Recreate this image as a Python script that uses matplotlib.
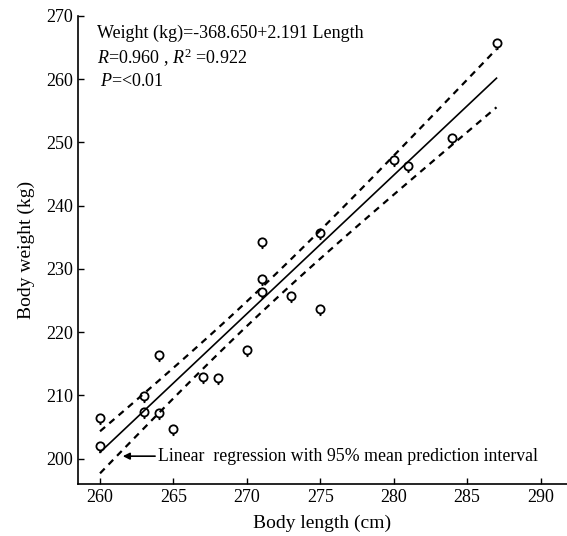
import numpy as np
import matplotlib
matplotlib.use("Agg")
import matplotlib.pyplot as plt
from matplotlib.path import Path

plt.rcParams['font.family'] = ['Liberation Serif', 'DejaVu Serif']
plt.rcParams['mathtext.fontset'] = 'custom'
plt.rcParams['mathtext.it'] = 'Liberation Serif:italic'
plt.rcParams['mathtext.rm'] = 'Liberation Serif'

length_cm = [260, 260, 263, 263, 264, 264, 265, 267, 268, 270,
             271, 271, 271, 273, 275, 275, 280, 281, 284, 287]
weight_kg = [206.2, 201.8, 207.2, 209.8, 216.3, 207.0, 204.6, 212.7, 212.6, 217.1,
             234.1, 228.3, 226.2, 225.6, 235.6, 223.5, 247.1, 246.1, 250.6, 265.6]
intercept = -368.650
slope = 2.191
x_ticks = [260, 265, 270, 275, 280, 285, 290]
y_ticks = [200, 210, 220, 230, 240, 250, 260, 270]

x = np.array(length_cm, float)
y = np.array(weight_kg, float)
n = len(x)
xs = np.linspace(x.min(), x.max(), 100)
fit = intercept + slope * xs
res = y - (intercept + slope * x)
s = np.sqrt(np.sum(res**2) / (n - 2))
sxx = np.sum((x - x.mean())**2)
t = 2.101
hw = 0.8 * t * s * np.sqrt(1.0 / n + (xs - x.mean())**2 / sxx)

fig = plt.figure(figsize=(5.67, 5.36), dpi=100)
ax = fig.add_axes([78/567, 1 - 484/536, (567 - 78)/567, (484 - 16)/536])

marker = Path.make_compound_path(Path.circle((0, 0.15), 0.55),
                                 Path([(0, -0.4), (0, -0.75)]))
ax.plot(x, y, linestyle='none', marker=marker, markersize=8,
        markerfacecolor='none', markeredgecolor='black', markeredgewidth=1.3)
ax.plot(xs, fit, color='black', lw=1.2)
ax.plot(xs, fit + hw, color='black', lw=1.6, ls=(0, (3, 2.5)))
ax.plot(xs, fit - hw, color='black', lw=1.6, ls=(0, (3, 2.5)))

ax.set_xlim(258.5, 291.8)
ax.set_ylim(196, 270)
ax.set_xticks(x_ticks)
ax.set_yticks(y_ticks)
ax.tick_params(direction='in', labelsize=13, length=4, width=1)
for sp in ['top', 'right']:
    ax.spines[sp].set_visible(False)
for sp in ['left', 'bottom']:
    ax.spines[sp].set_linewidth(1.2)
ax.set_xlabel('Body length (cm)', fontsize=14, labelpad=6)
ax.set_ylabel('Body weight (kg)', fontsize=14, labelpad=8)

tf = ax.transAxes
ax.text(0.039, 0.964, 'Weight (kg)=-368.650+2.191 Length', transform=tf,
        fontsize=13, va='center', ha='left')
ax.text(0.039, 0.910, r'$\mathit{R}$=0.960 , $\mathit{R}^2$ =0.922', transform=tf,
        fontsize=13, va='center', ha='left')
ax.text(0.045, 0.859, r'$\mathit{P}$=<0.01', transform=tf,
        fontsize=13, va='center', ha='left')

ax.annotate('', xy=(261.55, 200.4), xytext=(263.75, 200.4),
            arrowprops=dict(arrowstyle='-|>', color='black', lw=1.2,
                            mutation_scale=10, shrinkA=0, shrinkB=0))
ax.text(263.95, 200.4, 'Linear  regression with 95% mean prediction interval',
        fontsize=12.8, va='center', ha='left')

fig.savefig('out.png', dpi=100)
